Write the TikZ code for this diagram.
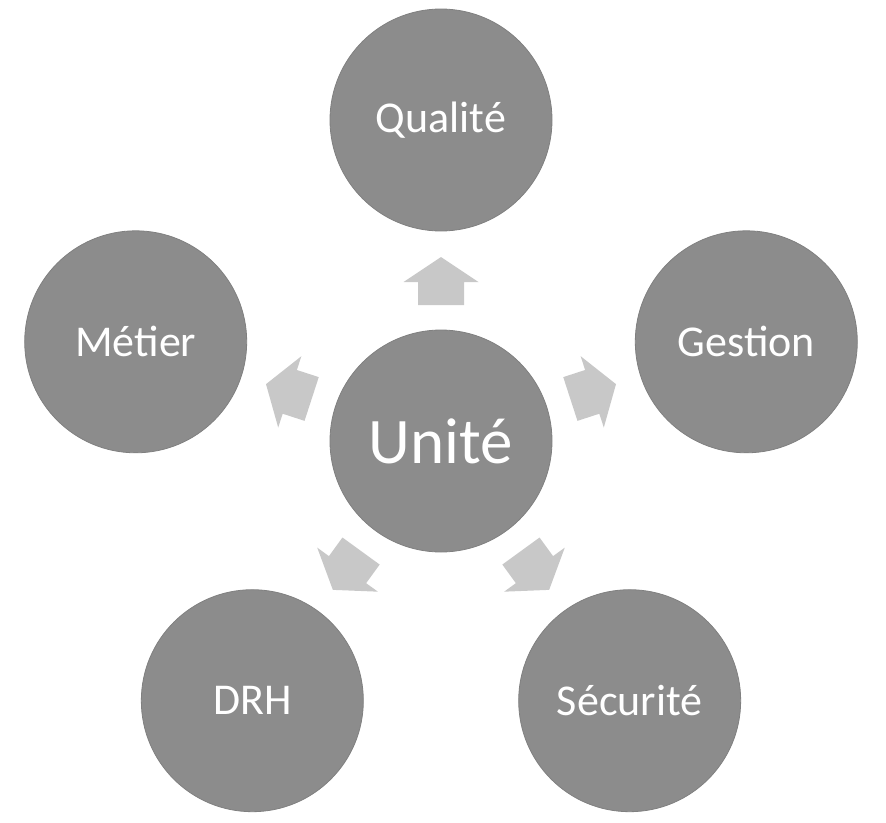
\documentclass[tikz,border=0pt]{standalone}
\usepackage{fontspec}
\setmainfont{Carlito}
\usetikzlibrary{calc}
\definecolor{circ}{RGB}{140,140,140}
\definecolor{circedge}{RGB}{128,128,128}
\definecolor{arr}{RGB}{200,200,200}
\begin{document}
\begin{tikzpicture}[x=1pt,y=1pt]
\useasboundingbox (0,-822) rectangle (886,0);
\tikzset{
  bubble/.style={circle, fill=circ, draw=circedge, line width=0.8pt, minimum size=222pt, inner sep=0pt, text=white, font=\fontsize{44}{52}\selectfont},
  blockarrow/.style={fill=arr}
}
\node[bubble, font=\fontsize{65}{76}\selectfont] (u) at (441,-441) {Unité};
\foreach \n/\t/\a in {q/Qualité/90, g/Gestion/18, s/Sécurité/-54, d/DRH/-126, m/Métier/162}{
  \node[bubble] (\n) at ($(u.center)+(\a:321)$) {\t};
}
\foreach \a in {90,18,-54,-126,162}{
  \fill[blockarrow, shift={(u.center)}, rotate=\a] (136,-23) -- (159,-23) -- (159,-37.5) -- (184,0) -- (159,37.5) -- (159,23) -- (136,23) -- cycle;
}
\end{tikzpicture}
\end{document}
